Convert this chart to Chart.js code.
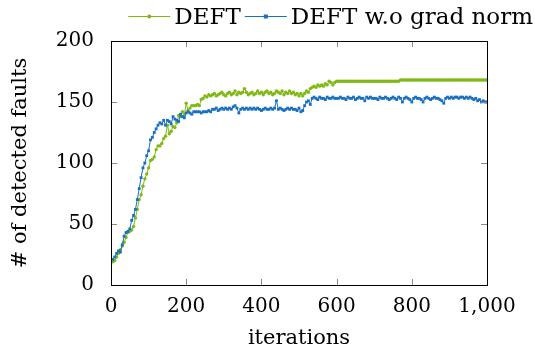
<!DOCTYPE html>
<html>
<head>
<meta charset="utf-8">
<script src="https://cdn.jsdelivr.net/npm/chart.js@4.4.1/dist/chart.umd.min.js"></script>
<style>
  html, body { margin: 0; padding: 0; background: #fff; }
  canvas { display: block; }
</style>
</head>
<body>
<canvas id="chartFaults" width="535" height="351"></canvas>
<script>
// datos (iteraciones 5..1000, paso 5)
const seriesNames = ['DEFT', 'DEFT w.o grad norm'];
const xTicks = [0, 200, 400, 600, 800, 1000];
const yTicks = [0, 50, 100, 150, 200];

const deftVals = [
  19,20,23,26,29,32,35,39,43,44,45,48,55,62,70,74,81,87,91,96,
  102,103,105,111,114,114,116,120,122,131,124,126,130,129,133,139,138,142,139,149,
  143,145,147,147,147,148,147,152,153,155,154,156,155,156,157,155,156,157,158,156,
  155,157,158,156,157,159,156,158,157,158,161,158,156,157,158,156,157,159,157,158,
  156,158,159,157,158,156,157,159,158,157,159,156,158,157,159,157,158,156,157,155,
  157,155,157,159,158,161,162,163,162,164,163,164,163,165,164,167,166,164,166,167,
  167,167,167,167,167,167,167,167,167,167,167,167,167,167,167,167,167,167,167,167,
  167,167,167,167,167,167,167,167,167,167,167,167,167,168,168,168,168,168,168,168,
  168,168,168,168,168,168,168,168,168,168,168,168,168,168,168,168,168,168,168,168,
  168,168,168,168,168,168,168,168,168,168,168,168,168,168,168,168,168,168,168,168
];

const noNormVals = [
  21,23,26,28,27,33,40,43,44,46,53,57,62,70,79,88,96,100,106,110,
  119,121,125,128,131,133,132,135,131,135,134,132,138,136,135,134,140,138,137,141,
  142,141,140,142,142,142,142,141,142,142,142,143,142,144,144,145,143,144,145,144,
  145,144,145,144,146,147,145,141,144,145,144,145,144,145,144,145,144,145,144,143,
  144,145,144,144,145,144,145,151,144,145,144,143,144,145,144,145,144,144,143,145,
  142,143,147,150,151,148,153,154,153,152,154,153,153,152,154,153,153,154,153,153,
  153,154,153,153,152,154,153,153,154,152,153,154,153,153,151,154,153,154,153,153,
  153,152,154,153,153,154,153,152,153,154,153,152,154,153,150,153,154,153,152,150,
  153,154,153,153,152,150,153,154,153,152,153,154,153,153,152,151,149,153,154,153,
  154,153,154,154,153,154,154,153,154,153,154,153,152,153,151,152,150,151,150,150
];

const iterations = deftVals.map((_, i) => 5 * (i + 1));

const GREEN = '#80b814';
const BLUE = '#1a70c0';
const FONT = '"DejaVu Serif", serif';

const toPoints = (vals) => iterations.map((x, i) => ({ x, y: vals[i] }));

// ticks hacia adentro + marco completo + leyenda tipo pgfplots
const framePlugin = {
  id: 'frame',
  afterDraw(chart) {
    const { ctx, chartArea: a, scales } = chart;
    ctx.save();
    ctx.strokeStyle = '#8a8a8a';
    ctx.lineWidth = 1;
    ctx.beginPath();
    xTicks.forEach(v => {
      const px = Math.round(scales.x.getPixelForValue(v)) + 0.5;
      ctx.moveTo(px, a.bottom); ctx.lineTo(px, a.bottom - 6);
      ctx.moveTo(px, a.top); ctx.lineTo(px, a.top + 6);
    });
    yTicks.forEach(v => {
      const py = Math.round(scales.y.getPixelForValue(v)) + 0.5;
      ctx.moveTo(a.left, py); ctx.lineTo(a.left + 6, py);
      ctx.moveTo(a.right, py); ctx.lineTo(a.right - 6, py);
    });
    ctx.stroke();

    ctx.strokeStyle = '#000';
    ctx.strokeRect(Math.round(a.left) + 0.5, Math.round(a.top) + 0.5,
      Math.round(a.right - a.left), Math.round(a.bottom - a.top));

    // leyenda
    ctx.font = '23px ' + FONT;
    ctx.fillStyle = '#000';
    ctx.textBaseline = 'alphabetic';
    const lineY = 16.5, textY = 24, segW = 42, gap = 4;
    let right = 533;
    const items = [
      { text: seriesNames[1], color: BLUE, mark: 'rect' },
      { text: seriesNames[0], color: GREEN, mark: 'circle' }
    ];
    items.forEach(it => {
      const w = ctx.measureText(it.text).width;
      const tx = right - w;
      ctx.fillText(it.text, tx, textY);
      const x1 = tx - gap, x0 = x1 - segW;
      ctx.strokeStyle = it.color;
      ctx.beginPath();
      ctx.moveTo(x0, lineY); ctx.lineTo(x1, lineY);
      ctx.stroke();
      ctx.fillStyle = it.color;
      const cx = (x0 + x1) / 2;
      if (it.mark === 'rect') {
        ctx.fillRect(cx - 2, lineY - 2, 4, 4);
      } else {
        ctx.beginPath();
        ctx.arc(cx, lineY, 2, 0, Math.PI * 2);
        ctx.fill();
      }
      ctx.fillStyle = '#000';
      right = x0 - gap;
    });
    ctx.restore();
  }
};

new Chart(document.getElementById('chartFaults').getContext('2d'), {
  type: 'line',
  data: {
    datasets: [
      {
        label: seriesNames[0],
        data: toPoints(deftVals),
        borderColor: GREEN,
        backgroundColor: GREEN,
        borderWidth: 1,
        pointStyle: 'circle',
        pointRadius: 1.7,
        pointBorderWidth: 0,
        order: 1
      },
      {
        label: seriesNames[1],
        data: toPoints(noNormVals),
        borderColor: BLUE,
        backgroundColor: BLUE,
        borderWidth: 1,
        pointStyle: 'rect',
        pointRadius: 2,
        pointBorderWidth: 0,
        order: 0
      }
    ]
  },
  options: {
    responsive: false,
    animation: false,
    layout: { padding: { top: 41, right: 48, left: 0, bottom: 0 } },
    plugins: {
      legend: { display: false },
      tooltip: { enabled: false }
    },
    scales: {
      x: {
        type: 'linear',
        min: 0,
        max: 1000,
        afterBuildTicks: (s) => { s.ticks = xTicks.map(v => ({ value: v })); },
        afterFit: (s) => { s.height = 66; },
        grid: { display: false },
        border: { display: false },
        ticks: {
          maxRotation: 0,
          padding: 2,
          color: '#000',
          font: { family: FONT, size: 20 },
          callback: (v) => Number(v).toLocaleString('en-US')
        },
        title: {
          display: true,
          text: 'iterations',
          color: '#000',
          font: { family: FONT, size: 21 },
          padding: { top: 0, bottom: 0 }
        }
      },
      y: {
        min: 0,
        max: 200,
        afterBuildTicks: (s) => { s.ticks = yTicks.map(v => ({ value: v })); },
        afterFit: (s) => { s.width = 111; },
        grid: { display: false },
        border: { display: false },
        ticks: {
          padding: 9,
          color: '#000',
          font: { family: FONT, size: 20 }
        },
        title: {
          display: true,
          text: '# of detected faults',
          color: '#000',
          font: { family: FONT, size: 21 },
          padding: { top: 8, bottom: 0 }
        }
      }
    }
  },
  plugins: [framePlugin]
});
</script>
</body>
</html>
